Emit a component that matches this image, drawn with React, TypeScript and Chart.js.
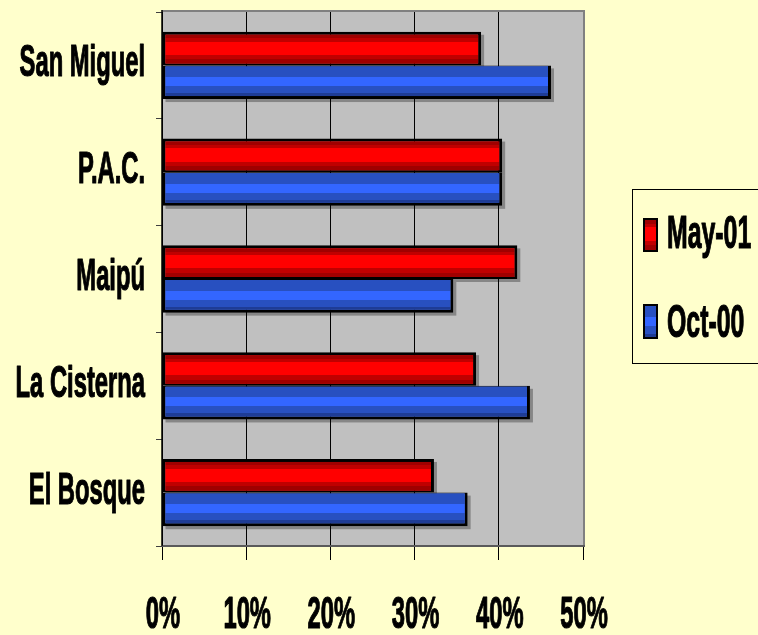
import React, { useEffect, useRef } from 'react';
import { Chart, registerables } from 'chart.js';

Chart.register(...registerables);

const categories = ['San Miguel', 'P.A.C.', 'Maipú', 'La Cisterna', 'El Bosque'];
const seriesNames = ['May-01', 'Oct-00'];
const may01 = [37.9, 40.4, 42.2, 37.3, 32.3];
const oct00 = [46.2, 40.4, 34.6, 43.7, 36.3];
const xTickValues = [0, 10, 20, 30, 40, 50];
const xTickLabels = ['0%', '10%', '20%', '30%', '40%', '50%'];

const BG = '#FFFFCC';
const PLOT_BG = '#C0C0C0';
const FONT = '"Liberation Sans", Arial, sans-serif';
const SX = 0.54;

const redStops: [number, string][] = [
  [0, '#A00000'], [0.12, '#A00000'], [0.12, '#C00000'], [0.24, '#C00000'], [0.24, '#FF0000'],
  [0.7, '#FF0000'], [0.7, '#C00000'], [0.85, '#C00000'], [0.85, '#A00000'], [1, '#A00000'],
];
const blueStops: [number, string][] = [
  [0, '#2850C0'], [0.36, '#2850C0'], [0.36, '#3366FF'], [0.66, '#3366FF'],
  [0.66, '#2850C0'], [0.9, '#2850C0'], [0.9, '#1E3C96'], [1, '#1E3C96'],
];
const stripeSets = [redStops, blueStops];

function stripeFill(ctx: CanvasRenderingContext2D, x: number, y: number, w: number, h: number, stops: [number, string][]) {
  const g = ctx.createLinearGradient(0, y, 0, y + h);
  stops.forEach(([o, c]) => g.addColorStop(o, c));
  ctx.fillStyle = g;
  ctx.fillRect(x, y, w, h);
}

function drawText(ctx: CanvasRenderingContext2D, text: string, x: number, y: number, align: CanvasTextAlign, size: number) {
  ctx.save();
  ctx.font = `bold ${size}px ${FONT}`;
  ctx.fillStyle = '#000';
  ctx.strokeStyle = '#000';
  ctx.lineWidth = 1.2;
  ctx.lineJoin = 'round';
  ctx.textAlign = align;
  ctx.textBaseline = 'alphabetic';
  ctx.translate(x, y);
  ctx.scale(SX, 1);
  ctx.fillText(text, 0, 0);
  ctx.strokeText(text, 0, 0);
  ctx.restore();
}

const decorPlugin = {
  id: 'decor',
  beforeDraw(chart: any) {
    const { ctx, chartArea: a } = chart;
    ctx.save();
    ctx.fillStyle = BG;
    ctx.fillRect(0, 0, chart.width, chart.height);
    ctx.fillStyle = PLOT_BG;
    ctx.fillRect(a.left, a.top, a.right - a.left, a.bottom - a.top);
    ctx.restore();
  },
  beforeDatasetsDraw(chart: any) {
    const { ctx } = chart;
    ctx.save();
    ctx.fillStyle = 'rgba(0,0,0,0.3)';
    chart.data.datasets.forEach((_: any, di: number) => {
      chart.getDatasetMeta(di).data.forEach((el: any) => {
        const p = el.getProps(['x', 'y', 'base', 'height'], true);
        const l = Math.min(p.x, p.base), r = Math.max(p.x, p.base);
        ctx.fillRect(l + 3, p.y - p.height / 2 + 3, r - l, p.height);
      });
    });
    ctx.restore();
  },
  afterDatasetsDraw(chart: any) {
    const { ctx, chartArea: a } = chart;
    ctx.save();
    chart.data.datasets.forEach((ds: any, di: number) => {
      const bw = ds.borderWidth;
      chart.getDatasetMeta(di).data.forEach((el: any) => {
        const p = el.getProps(['x', 'y', 'base', 'height'], true);
        const l = Math.min(p.x, p.base), r = Math.max(p.x, p.base);
        const t = p.y - p.height / 2, b = p.y + p.height / 2;
        stripeFill(ctx, l + bw.left, t + bw.top, r - l - bw.left - bw.right, b - t - bw.top - bw.bottom, stripeSets[di]);
      });
    });
    ctx.strokeStyle = '#808080';
    ctx.lineWidth = 2;
    ctx.beginPath();
    ctx.moveTo(a.left, a.top - 1);
    ctx.lineTo(a.right + 1, a.top - 1);
    ctx.lineTo(a.right + 1, a.bottom);
    ctx.stroke();
    ctx.strokeStyle = '#5A5A5A';
    ctx.beginPath();
    ctx.moveTo(a.left, a.bottom);
    ctx.lineTo(a.right + 2, a.bottom);
    ctx.stroke();
    ctx.strokeStyle = '#000';
    ctx.lineWidth = 1.5;
    ctx.beginPath();
    ctx.moveTo(a.left, a.top - 2);
    ctx.lineTo(a.left, a.bottom);
    ctx.stroke();
    ctx.restore();
  },
  afterDraw(chart: any) {
    const { ctx, chartArea: a } = chart;
    const ys = chart.scales.y;
    const xs = chart.scales.x;
    categories.forEach((c, i) => {
      drawText(ctx, c, a.left - 17, ys.getPixelForValue(i) + 11, 'right', 44);
    });
    xTickValues.forEach((v, i) => {
      drawText(ctx, xTickLabels[i], xs.getPixelForValue(v) + 1, 628, 'center', 44);
    });
    ctx.save();
    ctx.strokeStyle = '#000';
    ctx.lineWidth = 1;
    ctx.strokeRect(632.5, 189.5, 140, 174);
    const items = [
      { y: 218, h: 34, base: 248 },
      { y: 304, h: 35, base: 337 },
    ];
    items.forEach((it, i) => {
      ctx.fillStyle = '#000';
      ctx.fillRect(643, it.y, 15, it.h);
      stripeFill(ctx, 645, it.y + 2, 11, it.h - 4, stripeSets[i]);
      drawText(ctx, seriesNames[i], 667, it.base, 'left', 46);
    });
    ctx.restore();
  },
};

export default function App() {
  const ref = useRef<HTMLCanvasElement | null>(null);
  useEffect(() => {
    if (!ref.current) return;
    const chart = new Chart(ref.current, {
      type: 'bar',
      data: {
        labels: categories,
        datasets: [
          {
            label: seriesNames[0],
            data: may01,
            backgroundColor: '#C00000',
            borderColor: '#000',
            borderWidth: { top: 3, bottom: 2, left: 3, right: 3 },
            borderSkipped: false,
          },
          {
            label: seriesNames[1],
            data: oct00,
            backgroundColor: '#2850C0',
            borderColor: '#000',
            borderWidth: { top: 1, bottom: 3, left: 3, right: 3 },
            borderSkipped: false,
          },
        ],
      },
      options: {
        indexAxis: 'y',
        responsive: false,
        animation: false,
        devicePixelRatio: 1,
        layout: { padding: { left: 156, right: 175, top: 12, bottom: 75 } },
        datasets: { bar: { categoryPercentage: 0.63, barPercentage: 1 } },
        plugins: { legend: { display: false }, tooltip: { enabled: false } },
        scales: {
          x: {
            min: 0,
            max: 50,
            ticks: { display: false, stepSize: 10 },
            grid: {
              color: (c: any) => (c.tick && c.tick.value === 50 ? '#808080' : '#000'),
              lineWidth: 1,
              drawTicks: true,
              tickLength: 14,
              tickColor: '#000',
            },
            border: { display: false },
          },
          y: {
            ticks: { display: false },
            grid: {
              offset: true,
              drawOnChartArea: false,
              drawTicks: true,
              tickLength: 6,
              tickColor: '#404040',
            },
            border: { display: false },
          },
        },
      },
      plugins: [decorPlugin],
    } as any);
    return () => chart.destroy();
  }, []);
  return (
    <div style={{ position: 'fixed', left: 0, top: 0, width: 758, height: 635, background: BG }}>
      <canvas ref={ref} width={758} height={635} style={{ display: 'block', width: 758, height: 635 }} />
    </div>
  );
}
